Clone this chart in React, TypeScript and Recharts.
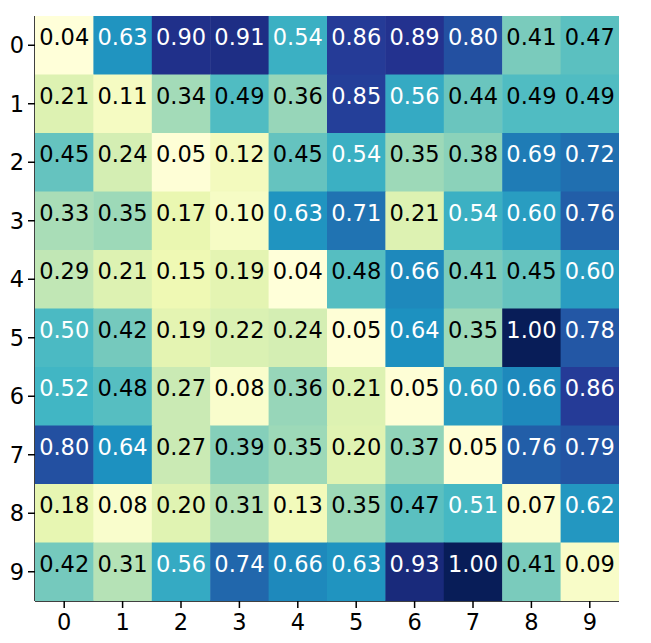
import React from "react";
import { ScatterChart, Scatter, XAxis, YAxis } from "recharts";

// cell values, one array per row (row 0 at the top)
const row0 = [0.04, 0.63, 0.9, 0.91, 0.54, 0.86, 0.89, 0.8, 0.41, 0.47];
const row1 = [0.21, 0.11, 0.34, 0.49, 0.36, 0.85, 0.56, 0.44, 0.49, 0.49];
const row2 = [0.45, 0.24, 0.05, 0.12, 0.45, 0.54, 0.35, 0.38, 0.69, 0.72];
const row3 = [0.33, 0.35, 0.17, 0.1, 0.63, 0.71, 0.21, 0.54, 0.6, 0.76];
const row4 = [0.29, 0.21, 0.15, 0.19, 0.04, 0.48, 0.66, 0.41, 0.45, 0.6];
const row5 = [0.5, 0.42, 0.19, 0.22, 0.24, 0.05, 0.64, 0.35, 1.0, 0.78];
const row6 = [0.52, 0.48, 0.27, 0.08, 0.36, 0.21, 0.05, 0.6, 0.66, 0.86];
const row7 = [0.8, 0.64, 0.27, 0.39, 0.35, 0.2, 0.37, 0.05, 0.76, 0.79];
const row8 = [0.18, 0.08, 0.2, 0.31, 0.13, 0.35, 0.47, 0.51, 0.07, 0.62];
const row9 = [0.42, 0.31, 0.56, 0.74, 0.66, 0.63, 0.93, 1.0, 0.41, 0.09];
const rows = [row0, row1, row2, row3, row4, row5, row6, row7, row8, row9];

const colTicks = [0, 1, 2, 3, 4, 5, 6, 7, 8, 9];
const rowTicks = [0, 1, 2, 3, 4, 5, 6, 7, 8, 9];

// matplotlib YlGnBu
const ylgnbu = [
  [255, 255, 217],
  [237, 248, 177],
  [199, 233, 180],
  [127, 205, 187],
  [65, 182, 196],
  [29, 145, 192],
  [34, 94, 168],
  [37, 52, 148],
  [8, 29, 88],
];

const flat = rows.flat();
const vmin = Math.min(...flat);
const vmax = Math.max(...flat);

function colorFor(v: number) {
  const t = Math.max(0, Math.min(1, (v - vmin) / (vmax - vmin))) * (ylgnbu.length - 1);
  const i = Math.min(Math.floor(t), ylgnbu.length - 2);
  const f = t - i;
  const a = ylgnbu[i];
  const b = ylgnbu[i + 1];
  const c = a.map((x, k) => Math.round(x + (b[k] - x) * f));
  return `rgb(${c[0]},${c[1]},${c[2]})`;
}

const W = 651;
const H = 643;
const M = { top: 16, right: 32, bottom: 0, left: 0 };
const Y_W = 35;
const X_H = 42;
const CELL_W = (W - M.left - M.right - Y_W) / colTicks.length;
const CELL_H = (H - M.top - M.bottom - X_H) / rowTicks.length;

const points = rows.flatMap((r, y) => r.map((v, x) => ({ x, y, v })));

const font = "'DejaVu Sans', sans-serif";
const FS = 22.5;

function Cell(props: any) {
  const { cx, cy, payload } = props;
  const v = payload.v as number;
  return (
    <g>
      <rect
        x={cx - CELL_W / 2}
        y={cy - CELL_H / 2}
        width={CELL_W + 0.5}
        height={CELL_H + 0.5}
        fill={colorFor(v)}
      />
      <text
        x={cx}
        y={cy}
        textAnchor="middle"
        fontFamily={font}
        fontSize={FS}
        fill={v >= 0.5 ? "#ffffff" : "#000000"}
      >
        {v.toFixed(2)}
      </text>
    </g>
  );
}

export default function App() {
  const tick = { fontFamily: font, fontSize: FS, fill: "#000" };
  const line = { stroke: "#000", strokeWidth: 1.5 };
  return (
    <div style={{ position: "absolute", left: 0, top: 0 }}>
      <ScatterChart width={W} height={H} margin={M}>
        <XAxis
          dataKey="x"
          type="number"
          domain={[-0.5, 9.5]}
          ticks={colTicks}
          interval={0}
          height={X_H}
          tick={tick}
          tickSize={7}
          tickMargin={6}
          axisLine={line}
          tickLine={line}
          allowDataOverflow
        />
        <XAxis
          xAxisId="top"
          orientation="top"
          type="number"
          domain={[-0.5, 9.5]}
          height={0}
          tick={false}
          tickLine={false}
          axisLine={line}
        />
        <YAxis
          dataKey="y"
          type="number"
          domain={[-0.5, 9.5]}
          reversed
          ticks={rowTicks}
          interval={0}
          width={Y_W}
          tick={tick}
          tickSize={7}
          tickMargin={4}
          axisLine={line}
          tickLine={line}
          allowDataOverflow
        />
        <YAxis
          yAxisId="right"
          orientation="right"
          type="number"
          domain={[-0.5, 9.5]}
          width={0}
          tick={false}
          tickLine={false}
          axisLine={line}
        />
        <Scatter data={points} shape={Cell} isAnimationActive={false} />
      </ScatterChart>
    </div>
  );
}
